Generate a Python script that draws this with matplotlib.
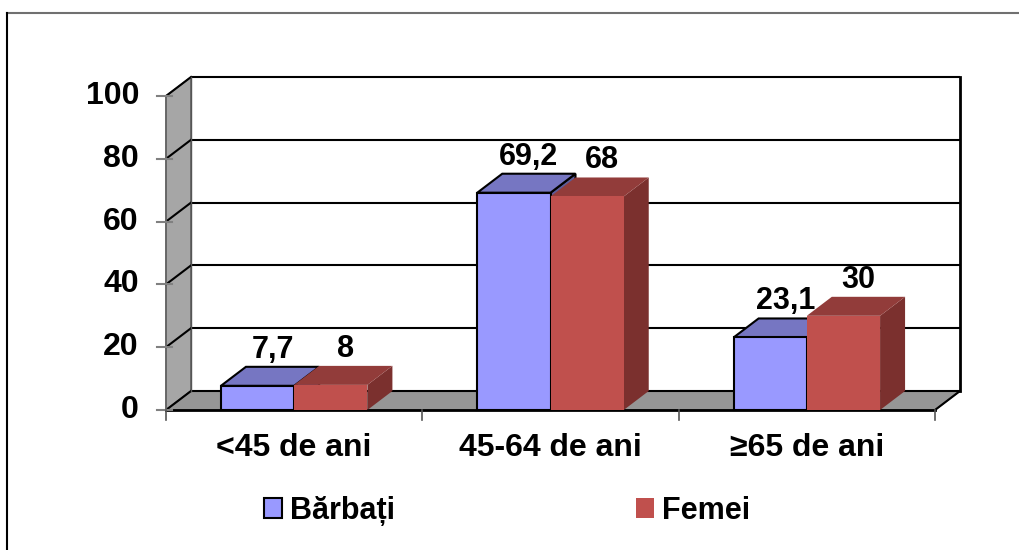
import matplotlib
matplotlib.use("Agg")
import matplotlib.pyplot as plt
from matplotlib.patches import Polygon, Rectangle
from matplotlib.lines import Line2D
import numpy as np

plt.rcParams['font.family'] = ['Liberation Sans', 'DejaVu Sans']
plt.rcParams['font.weight'] = 'bold'

categories = ["<45 de ani", "45-64 de ani", "\u226565 de ani"]
series_names = ["B\u0103rba\u021bi", "Femei"]
barbati = [7.7, 69.2, 23.1]
femei = [8, 68, 30]
value_labels_b = ["7,7", "69,2", "23,1"]
value_labels_f = ["8", "68", "30"]
yticks = [0, 20, 40, 60, 80, 100]

W, H = 1019, 550
fig = plt.figure(figsize=(W / 100, H / 100), dpi=100)
fig.patch.set_facecolor("white")

# front plane pixel box
x0p, x1p, y0p, y1p = 166, 935, 410, 96
ax = fig.add_axes([x0p / W, 1 - y0p / H, (x1p - x0p) / W, (y0p - y1p) / H])
ncat = len(categories)
ax.set_xlim(0, ncat)
ax.set_ylim(0, 100)
ax.set_facecolor("none")
for s in ax.spines.values():
    s.set_visible(False)
ax.set_xticks([])
ax.set_yticks([])

ppx = (x1p - x0p) / ncat      # px per category
ppy = (y0p - y1p) / 100.0     # px per value unit
dx = 25 / ppx                 # depth offset in data units
dy = 19 / ppy

def poly(pts, **kw):
    p = Polygon(pts, closed=True, clip_on=False, **kw)
    ax.add_patch(p)
    return p

# side wall (left)
poly([(0, 0), (dx, dy), (dx, 100 + dy), (0, 100)], facecolor="#a6a6a6",
     edgecolor="#555555", lw=1.0, zorder=1)
# floor
poly([(0, 0), (dx, dy), (ncat + dx, dy), (ncat, 0)], facecolor="#969696",
     edgecolor="#555555", lw=1.0, zorder=1)
# back wall
poly([(dx, dy), (dx, 100 + dy), (ncat + dx, 100 + dy), (ncat + dx, dy)],
     facecolor="white", edgecolor="none", zorder=1)

# gridlines
for v in yticks:
    ax.plot([dx, ncat + dx], [v + dy, v + dy], color="black", lw=1.5, zorder=2,
            clip_on=False, solid_capstyle="butt")
    ax.plot([0, dx], [v, v + dy], color="black", lw=1.5, zorder=2, clip_on=False)
ax.plot([ncat + dx, ncat + dx], [dy, 100 + dy], color="black", lw=2.0, zorder=2,
        clip_on=False)
ax.plot([dx, dx], [dy, 100 + dy], color="#555555", lw=1.0, zorder=2, clip_on=False)
# floor front edge and right diagonal
ax.plot([0, ncat], [0, 0], color="black", lw=2.0, zorder=2, clip_on=False)
ax.plot([ncat, ncat + dx], [0, dy], color="black", lw=1.5, zorder=2, clip_on=False)
ax.plot([0, 0], [0, 100], color="#666666", lw=1.2, zorder=2, clip_on=False)

# y ticks and labels
for v in yticks:
    ax.plot([-9 / ppx, 6 / ppx], [v, v], color="#808080", lw=1.5, zorder=3,
            clip_on=False)
    ax.text(-27 / ppx, v, str(v), ha="right", va="center", fontsize=23,
            fontweight="bold", color="black")

# category ticks and labels
for i in range(ncat + 1):
    ax.plot([i, i], [0, -10 / ppy], color="#555555", lw=1.2, zorder=3,
            clip_on=False)
for i, c in enumerate(categories):
    ax.text(i + 0.5, -38 / ppy, c, ha="center", va="center", fontsize=23,
            fontweight="bold", color="black")

# bars
gap = 1.5
bw = 1.0 / (2 + gap)
styles = [
    dict(front="#9999ff", top="#7676c2", side="#5c5c99", edge="black", lw=1.5),
    dict(front="#c0504d", top="#923c3a", side="#7b302e", edge="none", lw=0),
]
data = [barbati, femei]
labels = [value_labels_b, value_labels_f]
for i in range(ncat):
    for k in range(2):
        st = styles[k]
        v = data[k][i]
        xl = i + 0.5 - bw + k * bw
        xr = xl + bw
        z = 4 + k
        poly([(xr, 0), (xr + dx, dy), (xr + dx, v + dy), (xr, v)],
             facecolor=st["side"], edgecolor=st["edge"], lw=st["lw"], zorder=z)
        poly([(xl, v), (xl + dx, v + dy), (xr + dx, v + dy), (xr, v)],
             facecolor=st["top"], edgecolor=st["edge"], lw=st["lw"], zorder=z)
        poly([(xl, 0), (xl, v), (xr, v), (xr, 0)],
             facecolor=st["front"], edgecolor=st["edge"], lw=st["lw"], zorder=z)
        ax.text(xl + bw / 2 + 15 / ppx, v + dy + 9 / ppy, labels[k][i],
                ha="center", va="baseline", fontsize=22, fontweight="bold",
                color="black", zorder=10)

# legend
handles = [Rectangle((0, 0), 1, 1, facecolor=styles[0]["front"], edgecolor="black", lw=1.5),
           Rectangle((0, 0), 1, 1, facecolor=styles[1]["front"], edgecolor="none")]
leg = fig.legend(handles, series_names, loc="center", bbox_to_anchor=(507 / W, 1 - 511 / H),
                 ncol=2, frameon=False, fontsize=22, handlelength=0.6, handleheight=0.65,
                 handletextpad=0.25, columnspacing=7.9, borderpad=0)
for t in leg.get_texts():
    t.set_fontweight("bold")

# outer border (top and left)
fig.add_artist(Line2D([7 / W, 1], [1 - 13 / H, 1 - 13 / H], transform=fig.transFigure,
                      color="#707070", lw=1.5))
fig.add_artist(Line2D([7 / W, 7 / W], [1 - 13 / H, 0], transform=fig.transFigure,
                      color="black", lw=1.5))

fig.savefig("out.png", dpi=100)
